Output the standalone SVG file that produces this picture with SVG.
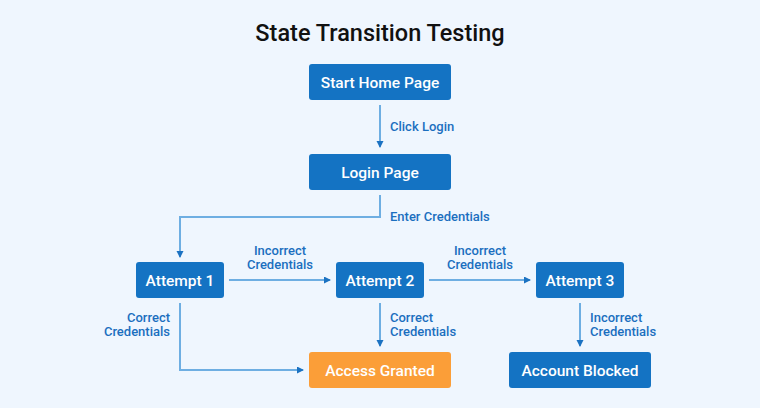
<svg xmlns="http://www.w3.org/2000/svg" width="760" height="408" viewBox="0 0 760 408">
<defs>
<marker id="ah" markerWidth="8" markerHeight="8" refX="6" refY="3.5" orient="auto" markerUnits="userSpaceOnUse">
<path d="M0,0 L7,3.5 L0,7 Z" fill="#1b72c2"/>
</marker>
<style>
.n{fill:#1473c3}
.g{fill:#fb9e38}
.nt{font-family:Roboto,"Liberation Sans",sans-serif;font-size:15.5px;font-weight:500;fill:#ffffff;text-anchor:middle}
.lb{font-family:Roboto,"Liberation Sans",sans-serif;font-size:13px;font-weight:500;fill:#1b6fbf}
.c{fill:none;stroke:#6eaee2;stroke-width:2;marker-end:url(#ah)}
.t{font-family:Roboto,"Liberation Sans",sans-serif;font-size:23.5px;font-weight:500;fill:#111111;text-anchor:middle}
</style>
</defs>
<rect width="760" height="408" fill="#eff6fe"/>
<text class="t" x="380" y="41">State Transition Testing</text>
<g id="connectors">
<path class="c" d="M380,105 V147"/>
<path class="c" d="M380,195 V217 H180 V257"/>
<path class="c" d="M229,280 H330"/>
<path class="c" d="M429,280 H530"/>
<path class="c" d="M180,303 V370 H303"/>
<path class="c" d="M380,303 V346"/>
<path class="c" d="M580,303 V346"/>
<text class="lb" x="390" y="131">Click Login</text>
<text class="lb" x="390" y="221">Enter Credentials</text>
<text class="lb" x="280" y="255" text-anchor="middle">Incorrect</text>
<text class="lb" x="280" y="269" text-anchor="middle">Credentials</text>
<text class="lb" x="480" y="255" text-anchor="middle">Incorrect</text>
<text class="lb" x="480" y="269" text-anchor="middle">Credentials</text>
<text class="lb" x="170" y="322" text-anchor="end">Correct</text>
<text class="lb" x="170" y="336" text-anchor="end">Credentials</text>
<text class="lb" x="390" y="322">Correct</text>
<text class="lb" x="390" y="336">Credentials</text>
<text class="lb" x="590" y="322">Incorrect</text>
<text class="lb" x="590" y="336">Credentials</text>
</g>
<g id="start"><rect class="n" x="309" y="64" width="142" height="36" rx="3"/><text class="nt" x="380" y="87.5">Start Home Page</text></g>
<g id="login"><rect class="n" x="309" y="154" width="142" height="36" rx="3"/><text class="nt" x="380" y="177.5">Login Page</text></g>
<g id="attempt1"><rect class="n" x="136" y="262" width="88" height="36" rx="3"/><text class="nt" x="180" y="285.5">Attempt 1</text></g>
<g id="attempt2"><rect class="n" x="336" y="262" width="88" height="36" rx="3"/><text class="nt" x="380" y="285.5">Attempt 2</text></g>
<g id="attempt3"><rect class="n" x="536" y="262" width="88" height="36" rx="3"/><text class="nt" x="580" y="285.5">Attempt 3</text></g>
<g id="granted"><rect class="g" x="309" y="352" width="142" height="36" rx="3"/><text class="nt" x="380" y="375.5">Access Granted</text></g>
<g id="blocked"><rect class="n" x="509" y="352" width="142" height="36" rx="3"/><text class="nt" x="580" y="375.5">Account Blocked</text></g>
</svg>
